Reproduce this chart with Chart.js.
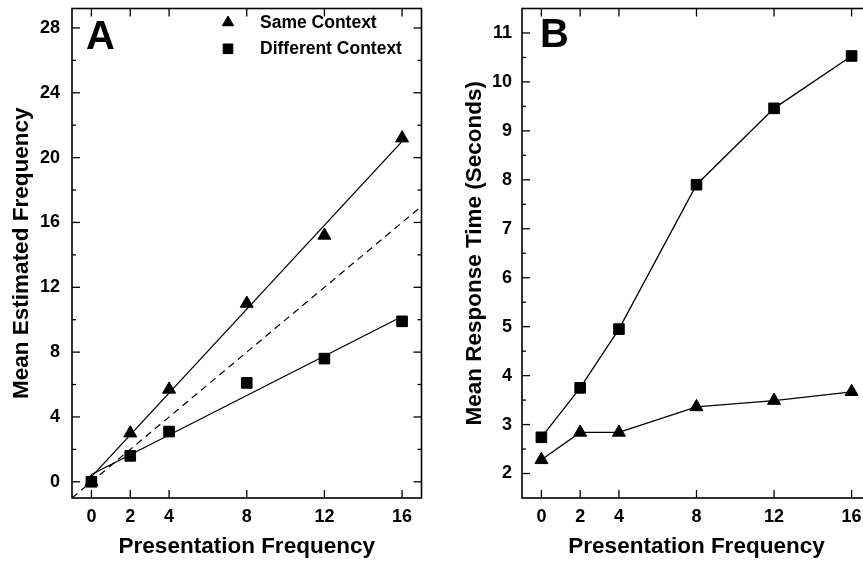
<!DOCTYPE html>
<html>
<head>
<meta charset="utf-8">
<script src="https://cdn.jsdelivr.net/npm/chart.js@4.4.1/dist/chart.umd.min.js"></script>
<style>
  html, body { margin: 0; padding: 0; background: #fff; overflow: hidden; }
  #wrap { position: relative; width: 863px; height: 562px; overflow: hidden; background: #fff; }
  #boxA { position: absolute; left: 0; top: 0; width: 430px; height: 562px; }
  #boxB { position: absolute; left: 430px; top: 0; width: 450px; height: 562px; }
</style>
</head>
<body>
<div id="wrap">
  <div id="boxA"><canvas id="chartA"></canvas></div>
  <div id="boxB"><canvas id="chartB"></canvas></div>
</div>
<script>
// ---- data ----
const freq = [0, 2, 4, 8, 12, 16];

// Panel A: mean estimated frequency
const estSame = [0, 3.0, 5.7, 11.0, 15.2, 21.2];
const estDiff = [0, 1.6, 3.1, 6.1, 7.6, 9.9];
// fitted lines (values at x = 0 and x = 16)
const fitX = [0, 16];
const fitSame = [0.3, 21.0];
const fitDiff = [0.45, 10.2];
// dashed identity line
const diagX = [-1, 17];
const diagY = [-1, 17];

// Panel B: mean response time (seconds)
const rtSame = [2.28, 2.84, 2.84, 3.36, 3.49, 3.67];
const rtDiff = [2.74, 3.75, 4.95, 7.9, 9.46, 10.53];

// axis ticks
const xTicks = [0, 2, 4, 8, 12, 16];
const yTicksA = [0, 4, 8, 12, 16, 20, 24, 28];
const yMinorA = [2, 6, 10, 14, 18, 22, 26];
const yTicksB = [2, 3, 4, 5, 6, 7, 8, 9, 10, 11];
const yMinorB = [2.5, 3.5, 4.5, 5.5, 6.5, 7.5, 8.5, 9.5, 10.5];

const FONT = '"Liberation Sans", Arial, Helvetica, sans-serif';

const pts = (xs, ys) => xs.map((x, i) => ({ x: x, y: ys[i] }));

function drawMarker(ctx, style, cx, cy, r) {
  ctx.beginPath();
  if (style === 'triangle') {
    ctx.moveTo(cx, cy - r);
    ctx.lineTo(cx + r * 0.866, cy + r * 0.5);
    ctx.lineTo(cx - r * 0.866, cy + r * 0.5);
    ctx.closePath();
  } else {
    const h = r * Math.SQRT1_2;
    ctx.rect(cx - h, cy - h, 2 * h, 2 * h);
  }
  ctx.fill();
  ctx.stroke();
}

// frame with inward ticks, panel letter and legend
const framePlugin = {
  id: 'frame',
  afterDraw(chart, args, opts) {
    const { ctx, chartArea: a, scales } = chart;
    const sx = scales.x, sy = scales.y;
    ctx.save();
    ctx.strokeStyle = '#000';
    ctx.fillStyle = '#000';
    ctx.lineWidth = 1.6;
    ctx.strokeRect(a.left, a.top, a.right - a.left, a.bottom - a.top);

    ctx.lineWidth = 1.3;
    const seg = (x1, y1, x2, y2) => {
      ctx.beginPath(); ctx.moveTo(x1, y1); ctx.lineTo(x2, y2); ctx.stroke();
    };
    xTicks.forEach(v => {
      const p = sx.getPixelForValue(v);
      seg(p, a.bottom, p, a.bottom - 8);
      seg(p, a.top, p, a.top + 8);
    });
    opts.yMajor.forEach(v => {
      const p = sy.getPixelForValue(v);
      seg(a.left, p, a.left + 8, p);
      seg(a.right, p, a.right - 8, p);
    });
    opts.yMinor.forEach(v => {
      const p = sy.getPixelForValue(v);
      seg(a.left, p, a.left + 4, p);
      seg(a.right, p, a.right - 4, p);
    });

    // panel letter
    ctx.font = 'bold 40px ' + FONT;
    ctx.textBaseline = 'alphabetic';
    ctx.textAlign = 'left';
    ctx.fillText(opts.letter, opts.letterX, opts.letterY);

    // legend
    (opts.legend || []).forEach(item => {
      ctx.lineWidth = 1;
      drawMarker(ctx, item.style, item.mx, item.my, item.r);
      ctx.font = 'bold 17.5px ' + FONT;
      ctx.fillText(item.label, item.tx, item.ty);
    });
    ctx.restore();
  }
};

function markerSet(label, data, style, r, showLine) {
  return {
    label: label,
    data: data,
    showLine: showLine,
    borderColor: '#000',
    borderWidth: 1.3,
    backgroundColor: '#000',
    pointStyle: style,
    pointRadius: r,
    pointBorderWidth: 1,
    pointBackgroundColor: '#000',
    pointBorderColor: '#000',
    order: 0
  };
}

function lineSet(data, dash) {
  return {
    data: data,
    showLine: true,
    borderColor: '#000',
    borderWidth: dash ? 1.2 : 1.3,
    borderDash: dash || [],
    pointRadius: 0,
    order: 1
  };
}

function makeOptions(cfg) {
  return {
    responsive: true,
    maintainAspectRatio: false,
    animation: false,
    devicePixelRatio: 1,
    layout: { padding: { top: 6, right: cfg.padRight, bottom: 0, left: 0 } },
    plugins: {
      legend: { display: false },
      tooltip: { enabled: false },
      frame: cfg.frame
    },
    scales: {
      x: {
        type: 'linear', min: -1, max: 17,
        afterBuildTicks: s => { s.ticks = xTicks.map(v => ({ value: v })); },
        afterFit: s => { s.height = 64; s.paddingLeft = 0; s.paddingRight = 0; },
        grid: { display: false, drawTicks: false },
        border: { display: false },
        ticks: {
          color: '#000', padding: 8, autoSkip: false, maxRotation: 0,
          font: { family: FONT, size: 18, weight: 'bold' }
        },
        title: {
          display: true, text: 'Presentation Frequency', color: '#000',
          font: { family: FONT, size: 22.5, weight: 'bold' },
          padding: { top: 0, bottom: 1.5 }
        }
      },
      y: {
        type: 'linear', min: cfg.yMin, max: cfg.yMax,
        afterBuildTicks: s => { s.ticks = cfg.yTicks.map(v => ({ value: v })); },
        afterFit: s => { s.width = cfg.yWidth; s.paddingTop = 0; s.paddingBottom = 0; },
        grid: { display: false, drawTicks: false },
        border: { display: false },
        ticks: {
          color: '#000', padding: cfg.tickPad, autoSkip: false,
          font: { family: FONT, size: 18, weight: 'bold' }
        },
        title: {
          display: true, text: cfg.yTitle, color: '#000',
          font: { family: FONT, size: 22.5, weight: 'bold' },
          padding: { top: cfg.titlePad, bottom: 0 }
        }
      }
    }
  };
}

new Chart(document.getElementById('chartA'), {
  type: 'scatter',
  data: {
    datasets: [
      markerSet('Same Context', pts(freq, estSame), 'triangle', 7.5, false),
      markerSet('Different Context', pts(freq, estDiff), 'rect', 7.5, false),
      lineSet(pts(fitX, fitSame)),
      lineSet(pts(fitX, fitDiff)),
      lineSet(pts(diagX, diagY), [7, 5])
    ]
  },
  options: makeOptions({
    padRight: 7, yMin: -1, yMax: 29.2, yTicks: yTicksA, yWidth: 72, tickPad: 12,
    yTitle: 'Mean Estimated Frequency', titlePad: 8.5,
    frame: {
      yMajor: yTicksA, yMinor: yMinorA, letter: 'A', letterX: 86, letterY: 49,
      legend: [
        { label: 'Same Context', style: 'triangle', mx: 228, my: 22.5, r: 6.5, tx: 260, ty: 28.3 },
        { label: 'Different Context', style: 'rect', mx: 228, my: 48.8, r: 6.8, tx: 260, ty: 54.3 }
      ]
    }
  }),
  plugins: [framePlugin]
});

new Chart(document.getElementById('chartB'), {
  type: 'scatter',
  data: {
    datasets: [
      markerSet('Same Context', pts(freq, rtSame), 'triangle', 7.5, true),
      markerSet('Different Context', pts(freq, rtDiff), 'rect', 7.5, true)
    ]
  },
  options: makeOptions({
    padRight: 9, yMin: 1.5, yMax: 11.5, yTicks: yTicksB, yWidth: 92, tickPad: 10,
    yTitle: 'Mean Response Time (Seconds)', titlePad: 31.5,
    frame: { yMajor: yTicksB, yMinor: yMinorB, letter: 'B', letterX: 110, letterY: 47 }
  }),
  plugins: [framePlugin]
});
</script>
</body>
</html>
